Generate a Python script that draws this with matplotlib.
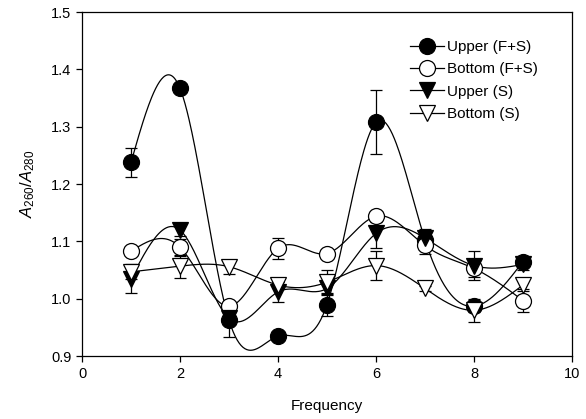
import numpy as np
import matplotlib
matplotlib.use("Agg")
import matplotlib.pyplot as plt

plt.rcParams['font.family'] = ['Liberation Sans', 'DejaVu Sans']
plt.rcParams['mathtext.fontset'] = 'custom'
plt.rcParams['mathtext.it'] = 'Liberation Sans:italic'
plt.rcParams['mathtext.rm'] = 'Liberation Sans'

freq = [1, 2, 3, 4, 5, 6, 7, 8, 9]
upper_fs = [1.238, 1.367, 0.963, 0.935, 0.990, 1.308, 1.103, 0.987, 1.065]
upper_fs_err = [0.025, 0.005, 0.03, 0.005, 0.02, 0.056, 0.012, 0.01, 0.01]
bottom_fs = [1.083, 1.090, 0.987, 1.088, 1.079, 1.144, 1.093, 1.053, 0.997]
bottom_fs_err = [0.005, 0.015, 0.005, 0.018, 0.005, 0.01, 0.015, 0.015, 0.02]
upper_s = [1.035, 1.120, 0.966, 1.012, 1.018, 1.114, 1.106, 1.058, 1.060]
upper_s_err = [0.025, 0.01, 0.005, 0.018, 0.01, 0.025, 0.015, 0.025, 0.01]
bottom_s = [1.047, 1.057, 1.056, 1.024, 1.029, 1.058, 1.018, 0.980, 1.024]
bottom_s_err = [0.012, 0.02, 0.012, 0.005, 0.022, 0.025, 0.005, 0.02, 0.01]
labels = ['Upper (F+S)', 'Bottom (F+S)', 'Upper (S)', 'Bottom (S)']


def natural_spline(x, y, n=400):
    x = np.asarray(x, float); y = np.asarray(y, float)
    m = len(x); h = np.diff(x)
    A = np.zeros((m, m)); b = np.zeros(m)
    A[0, 0] = 1; A[-1, -1] = 1
    for i in range(1, m - 1):
        A[i, i - 1] = h[i - 1]; A[i, i] = 2 * (h[i - 1] + h[i]); A[i, i + 1] = h[i]
        b[i] = 3 * ((y[i + 1] - y[i]) / h[i] - (y[i] - y[i - 1]) / h[i - 1])
    c = np.linalg.solve(A, b)
    xs = np.linspace(x[0], x[-1], n)
    ys = np.empty_like(xs)
    for k, xv in enumerate(xs):
        i = min(np.searchsorted(x, xv, side='right') - 1, m - 2)
        dx = xv - x[i]
        bb = (y[i + 1] - y[i]) / h[i] - h[i] * (2 * c[i] + c[i + 1]) / 3
        d = (c[i + 1] - c[i]) / (3 * h[i])
        ys[k] = y[i] + bb * dx + c[i] * dx ** 2 + d * dx ** 3
    return xs, ys


fig = plt.figure(figsize=(5.86, 4.19), dpi=100)
ax = fig.add_axes([0.14, 0.150, 0.836, 0.821])

series = [
    (upper_fs, upper_fs_err, 'o', 'black', 11.5),
    (bottom_fs, bottom_fs_err, 'o', 'white', 11.5),
    (upper_s, upper_s_err, 'v', 'black', 11),
    (bottom_s, bottom_s_err, 'v', 'white', 11),
]
for (vals, errs, mk, fc, ms), lab in zip(series, labels):
    xs, ys = natural_spline(freq, vals)
    ax.plot(xs, ys, color='black', lw=0.9, zorder=2)
    ax.errorbar(freq, vals, yerr=errs, fmt='none', ecolor='black', elinewidth=0.9,
                capsize=4, capthick=0.9, zorder=3)
    ax.plot(freq, vals, linestyle='none', marker=mk, markersize=ms,
            markerfacecolor=fc, markeredgecolor='black', markeredgewidth=0.9, zorder=4)
    ax.plot([], [], color='black', lw=0.9, marker=mk, markersize=ms,
            markerfacecolor=fc, markeredgecolor='black', markeredgewidth=0.9, label=lab)

ax.set_xlim(0, 10)
ax.set_ylim(0.9, 1.5)
ax.set_xticks([0, 2, 4, 6, 8, 10])
ax.set_yticks([0.9, 1.0, 1.1, 1.2, 1.3, 1.4, 1.5])
ax.yaxis.set_major_formatter(matplotlib.ticker.FormatStrFormatter('%.1f'))
ax.tick_params(direction='out', length=4, width=0.9, labelsize=10.5)
for s in ax.spines.values():
    s.set_linewidth(0.9)
ax.set_xlabel('Frequency', fontsize=11, labelpad=13)
ax.set_ylabel('$A_{260}/A_{280}$', fontsize=12, labelpad=10)

ax.legend(loc='upper right', bbox_to_anchor=(0.955, 0.955), frameon=False, fontsize=11,
          handlelength=2.2, handletextpad=0.2, labelspacing=0.55, borderpad=0.3)

fig.savefig('out.png', dpi=100)
